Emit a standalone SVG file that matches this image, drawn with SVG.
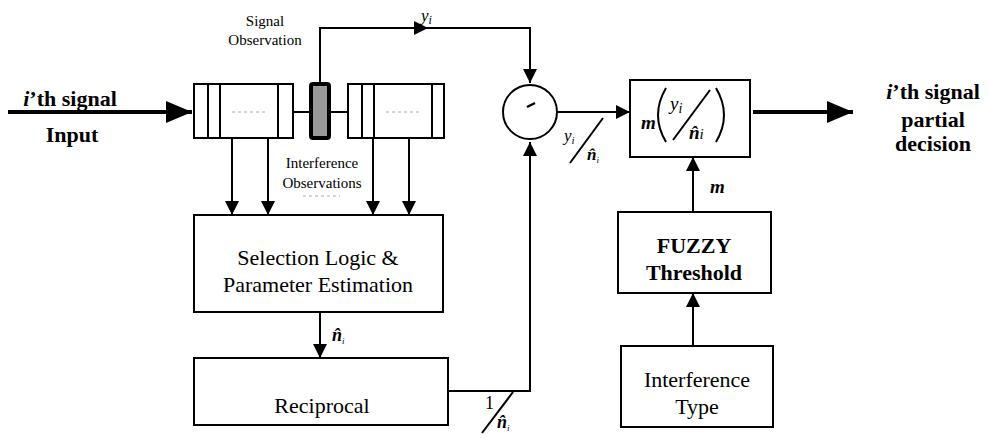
<svg xmlns="http://www.w3.org/2000/svg" width="989" height="438" viewBox="0 0 989 438">
<style>
.box{fill:#fff;stroke:#000;stroke-width:2}
.ln{fill:none;stroke:#000;stroke-width:2}
.thick{fill:none;stroke:#000;stroke-width:4}
.dash{stroke:#aaa;stroke-width:1;stroke-dasharray:3,3}
text{font-family:"Liberation Serif","Times New Roman",serif;fill:#000}
.t22{font-size:22px;text-anchor:middle}
.b22{font-size:22px;font-weight:bold;text-anchor:middle}
.s15{font-size:15px;text-anchor:middle}
.mi{font-style:italic}
.bi{font-style:italic;font-weight:bold}
</style>
<defs>
<marker id="ah" markerUnits="userSpaceOnUse" markerWidth="14" markerHeight="14" refX="14" refY="7" orient="auto"><path d="M0,0 L14,7 L0,14 z" fill="#000"/></marker>
<marker id="big" markerUnits="userSpaceOnUse" markerWidth="26" markerHeight="22" refX="26" refY="11" orient="auto"><path d="M0,0 L26,11 L0,22 z" fill="#000"/></marker>
</defs>

<g id="connectors">
<path class="thick" d="M8,112 H192" marker-end="url(#big)"/>
<path class="thick" d="M753,112 H853" marker-end="url(#big)"/>
<path class="ln" d="M293,112 H311 M329,112 H348"/>
<path class="ln" d="M320,84 V28 H428" marker-end="url(#ah)"/>
<path class="ln" d="M426,28 H530 V83" marker-end="url(#ah)"/>
<path class="ln" d="M232,138 V215" marker-end="url(#ah)"/>
<path class="ln" d="M268,138 V215" marker-end="url(#ah)"/>
<path class="ln" d="M373,138 V215" marker-end="url(#ah)"/>
<path class="ln" d="M409,138 V215" marker-end="url(#ah)"/>
<path class="ln" d="M320,312 V358" marker-end="url(#ah)"/>
<path class="ln" d="M448,391 H530 V142" marker-end="url(#ah)"/>
<path class="ln" d="M557,112 H630" marker-end="url(#ah)"/>
<path class="ln" d="M693,212 V157" marker-end="url(#ah)"/>
<path class="ln" d="M693,346 V293" marker-end="url(#ah)"/>
</g>

<g id="input-label">
<text x="70" y="106" class="b22"><tspan class="bi">i</tspan>’th signal</text>
<text x="72" y="142" class="b22">Input</text>
</g>

<g id="reg-left">
<rect class="box" x="194" y="84" width="99" height="54"/>
<path class="ln" d="M208,84 V138 M220,84 V138 M278,84 V138"/>
<line class="dash" x1="232" y1="112" x2="267" y2="112"/>
</g>

<g id="signal-bar">
<rect x="311" y="84" width="18" height="54" rx="2" fill="#999" stroke="#000" stroke-width="4"/>
</g>

<g id="reg-right">
<rect class="box" x="348" y="84" width="96" height="54"/>
<path class="ln" d="M362,84 V138 M374,84 V138 M432,84 V138"/>
<line class="dash" x1="386" y1="112" x2="420" y2="112"/>
</g>

<g id="signal-observation-label">
<text x="265" y="26" class="s15">Signal</text>
<text x="265" y="45" class="s15">Observation</text>
</g>

<g id="interference-observations-label">
<text x="322" y="168" class="s15">Interference</text>
<text x="322" y="188" class="s15">Observations</text>
<line class="dash" x1="303" y1="196" x2="340" y2="196"/>
</g>

<g id="yi-top">
<text x="421" y="21" font-size="17" class="mi">y<tspan font-size="12" dy="3">i</tspan></text>
</g>

<g id="selection">
<rect class="box" x="194" y="215" width="249" height="97"/>
<text x="318" y="265" class="t22">Selection Logic &amp;</text>
<text x="318" y="292" class="t22">Parameter Estimation</text>
</g>

<g id="ni-label">
<text x="332" y="341" font-size="18" class="bi">n&#x302;<tspan font-size="9" dy="3" font-weight="normal">i</tspan></text>
</g>

<g id="reciprocal">
<rect class="box" x="194" y="358" width="254" height="67"/>
<text x="322" y="413" class="t22">Reciprocal</text>
</g>

<g id="recip-label">
<text x="485" y="409" font-size="18">1</text>
<line class="ln" x1="482" y1="433" x2="513" y2="392" stroke-width="1.5"/>
<text x="497" y="428" font-size="18" class="bi">n&#x302;<tspan font-size="9" dy="3" font-weight="normal">i</tspan></text>
</g>

<g id="divider">
<circle cx="530" cy="112" r="27" class="box"/>
<line x1="527" y1="107" x2="535" y2="103" stroke="#000" stroke-width="2.5"/>
</g>

<g id="ratio-label">
<text x="564" y="141" font-size="17" class="mi">y<tspan font-size="11" dy="3">i</tspan></text>
<line class="ln" x1="570" y1="163" x2="603" y2="118" stroke-width="1.5"/>
<text x="587" y="160" font-size="17" class="bi">n&#x302;<tspan font-size="9" dy="3" font-weight="normal">i</tspan></text>
</g>

<g id="decision-fn">
<rect class="box" x="630" y="80" width="120" height="77"/>
<text x="641" y="129" font-size="19" class="bi">m</text>
<path d="M666,88 Q650,115 666,142" class="ln" stroke-width="1.5"/>
<path d="M716,88 Q732,115 716,142" class="ln" stroke-width="1.5"/>
<text x="670" y="110" font-size="19" class="mi">y<tspan font-size="14" dy="3">i</tspan></text>
<line class="ln" x1="673" y1="140" x2="710" y2="90" stroke-width="1.5"/>
<text x="689" y="139" font-size="19" class="bi">n&#x302;<tspan font-size="15" dy="0" font-weight="normal">i</tspan></text>
</g>

<g id="output-label">
<text x="933" y="99" class="b22"><tspan class="bi">i</tspan>’th signal</text>
<text x="933" y="127" class="b22">partial</text>
<text x="933" y="151" class="b22">decision</text>
</g>

<g id="m-label">
<text x="710" y="193" font-size="19" class="bi">m</text>
</g>

<g id="fuzzy">
<rect class="box" x="618" y="212" width="153" height="81"/>
<text x="694" y="253" class="b22">FUZZY</text>
<text x="694" y="280" class="b22">Threshold</text>
</g>

<g id="interference-type">
<rect class="box" x="621" y="346" width="152" height="81"/>
<text x="697" y="387" class="t22">Interference</text>
<text x="697" y="414" class="t22">Type</text>
</g>
</svg>
